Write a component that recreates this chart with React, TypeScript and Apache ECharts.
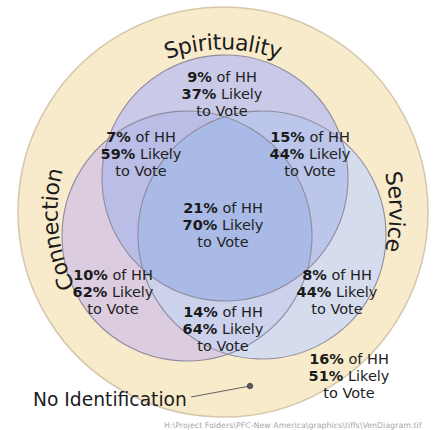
import React, { useEffect, useRef } from 'react';
import * as echarts from 'echarts';

// ---------- data ----------
const circleNames = ['Spirituality', 'Connection', 'Service'];
const regionNames = [
  'Spirituality only',
  'Spirituality & Connection',
  'Spirituality & Service',
  'All three',
  'Connection only',
  'Connection & Service',
  'Service only',
  'No Identification',
];
const hhShare = [9, 7, 15, 21, 10, 14, 8, 16];
const likelyVote = [37, 59, 44, 70, 62, 64, 44, 51];
const outsideLabel = 'No Identification';
const footerText = 'H:\\Project Folders\\PFC-New America\\graphics\\tiffs\\VenDiagram.tif';

// ---------- layout ----------
const OUTER = { cx: 223, cy: 212, r: 205 };
const CIRCLES = [
  { cx: 225, cy: 178, r: 123 }, // Spirituality
  { cx: 187, cy: 236, r: 125 }, // Connection
  { cx: 262, cy: 235, r: 124 }, // Service
];
const SINGLE_COLORS = ['#CACAE8', '#DCCCE0', '#D5DCEE'];
const PAIRS = [
  { idx: [0, 1], color: '#BABDE5' },
  { idx: [0, 2], color: '#BCC6EA' },
  { idx: [1, 2], color: '#CCD1EC' },
];
const TRIPLE_COLOR = '#AABAE6';
const LABEL_POS = [
  [222, 94],
  [141, 154],
  [310, 154],
  [223, 225],
  [113, 292],
  [223, 329],
  [337, 292],
  [349, 376],
];
const TITLE_ANGLES = [0, 264, 90];
const TITLE_R = [170, 173, 174];
const FONT = '"DejaVu Sans", Verdana, sans-serif';

function intersectionPolygon(idx: number[]) {
  const pts: number[][] = [];
  const N = 1440;
  idx.forEach((i) => {
    const c = CIRCLES[i];
    for (let k = 0; k < N; k++) {
      const a = (k / N) * Math.PI * 2;
      const x = c.cx + c.r * Math.cos(a);
      const y = c.cy + c.r * Math.sin(a);
      const inside = idx.every(
        (j) => j === i || Math.hypot(x - CIRCLES[j].cx, y - CIRCLES[j].cy) <= CIRCLES[j].r
      );
      if (inside) pts.push([x, y]);
    }
  });
  let mx = 0, my = 0;
  pts.forEach((p) => { mx += p[0]; my += p[1]; });
  mx /= pts.length; my /= pts.length;
  pts.sort((p, q) => Math.atan2(p[1] - my, p[0] - mx) - Math.atan2(q[1] - my, q[0] - mx));
  return pts;
}

function arcText(text: string, angleDeg: number, R: number, fontSize: number, z: number) {
  const canvas = document.createElement('canvas');
  const ctx = canvas.getContext('2d') as CanvasRenderingContext2D;
  ctx.font = `${fontSize}px ${FONT}`;
  const chars = Array.from(text);
  const widths = chars.map((ch) => ctx.measureText(ch).width);
  const total = widths.reduce((a, b) => a + b, 0);
  const phi0 = (angleDeg * Math.PI) / 180;
  let s = -total / 2;
  return chars.map((ch, i) => {
    const mid = s + widths[i] / 2;
    s += widths[i];
    const phi = phi0 + mid / R;
    return {
      type: 'text',
      x: OUTER.cx + R * Math.sin(phi),
      y: OUTER.cy - R * Math.cos(phi),
      rotation: -phi,
      z,
      silent: true,
      style: {
        text: ch,
        fontSize,
        fontFamily: FONT,
        fill: '#1c1c1c',
        align: 'center',
        verticalAlign: 'middle',
        textAlign: 'center',
        textVerticalAlign: 'middle',
      },
    };
  });
}

export default function App() {
  const ref = useRef<HTMLDivElement>(null);

  useEffect(() => {
    if (!ref.current) return;
    const chart = echarts.init(ref.current, undefined, { renderer: 'svg' });
    const elements: any[] = [];

    // outer "No Identification" disk
    elements.push({
      type: 'circle',
      shape: { cx: OUTER.cx, cy: OUTER.cy, r: OUTER.r },
      z: 1,
      silent: true,
      style: { fill: '#F8EBCB', stroke: '#D4C7AC', lineWidth: 1.5 },
    });

    // single circles (drawn Connection, Spirituality, Service)
    [1, 0, 2].forEach((i, k) => {
      const c = CIRCLES[i];
      elements.push({
        type: 'circle',
        shape: { cx: c.cx, cy: c.cy, r: c.r },
        z: 2 + k,
        silent: true,
        style: { fill: SINGLE_COLORS[i] },
      });
    });

    // pair overlaps
    PAIRS.forEach((p, k) => {
      elements.push({
        type: 'polygon',
        shape: { points: intersectionPolygon(p.idx) },
        z: 6 + k,
        silent: true,
        style: { fill: p.color },
      });
    });

    // triple overlap
    elements.push({
      type: 'polygon',
      shape: { points: intersectionPolygon([0, 1, 2]) },
      z: 10,
      silent: true,
      style: { fill: TRIPLE_COLOR },
    });

    // circle outlines
    CIRCLES.forEach((c) => {
      elements.push({
        type: 'circle',
        shape: { cx: c.cx, cy: c.cy, r: c.r },
        z: 11,
        silent: true,
        style: { fill: 'none', stroke: '#8E8C9E', lineWidth: 1.1 },
      });
    });

    // curved circle titles
    circleNames.forEach((name, i) => {
      elements.push(...arcText(name, TITLE_ANGLES[i], TITLE_R[i], 22, 20));
    });

    // region labels
    hhShare.forEach((hh, i) => {
      elements.push({
        type: 'text',
        x: LABEL_POS[i][0],
        y: LABEL_POS[i][1],
        z: 20,
        silent: true,
        name: regionNames[i],
        style: {
          text: `{b|${hh}%} of HH\n{b|${likelyVote[i]}%} Likely\nto Vote`,
          fontSize: 14.5,
          fontFamily: FONT,
          lineHeight: 17,
          fill: '#222222',
          align: 'center',
          verticalAlign: 'middle',
          textAlign: 'center',
          textVerticalAlign: 'middle',
          rich: {
            b: { fontWeight: 'bold', fontSize: 14.5, fontFamily: FONT, lineHeight: 17, fill: '#1a1a1a' },
          },
        },
      });
    });

    // No Identification label + leader
    elements.push({
      type: 'text',
      x: 33,
      y: 399,
      z: 20,
      silent: true,
      style: {
        text: outsideLabel,
        fontSize: 18.7,
        fontFamily: FONT,
        fill: '#1c1c1c',
        align: 'left',
        verticalAlign: 'middle',
        textAlign: 'left',
        textVerticalAlign: 'middle',
      },
    });
    elements.push({
      type: 'line',
      z: 20,
      silent: true,
      shape: { x1: 191, y1: 397, x2: 250, y2: 386 },
      style: { stroke: '#666666', lineWidth: 1.2 },
    });
    elements.push({
      type: 'circle',
      z: 21,
      silent: true,
      shape: { cx: 250, cy: 386, r: 3.3 },
      style: { fill: '#58585e' },
    });

    // footer path
    elements.push({
      type: 'text',
      x: 164,
      y: 425,
      z: 20,
      silent: true,
      style: {
        text: footerText,
        fontSize: 7.9,
        fontFamily: FONT,
        fill: '#a8a8a8',
        align: 'left',
        verticalAlign: 'middle',
        textAlign: 'left',
        textVerticalAlign: 'middle',
      },
    });

    chart.setOption({
      animation: false,
      backgroundColor: '#ffffff',
      graphic: { elements },
    });

    return () => chart.dispose();
  }, []);

  return (
    <div
      ref={ref}
      style={{ position: 'fixed', left: 0, top: 0, width: 433, height: 430 }}
    />
  );
}
